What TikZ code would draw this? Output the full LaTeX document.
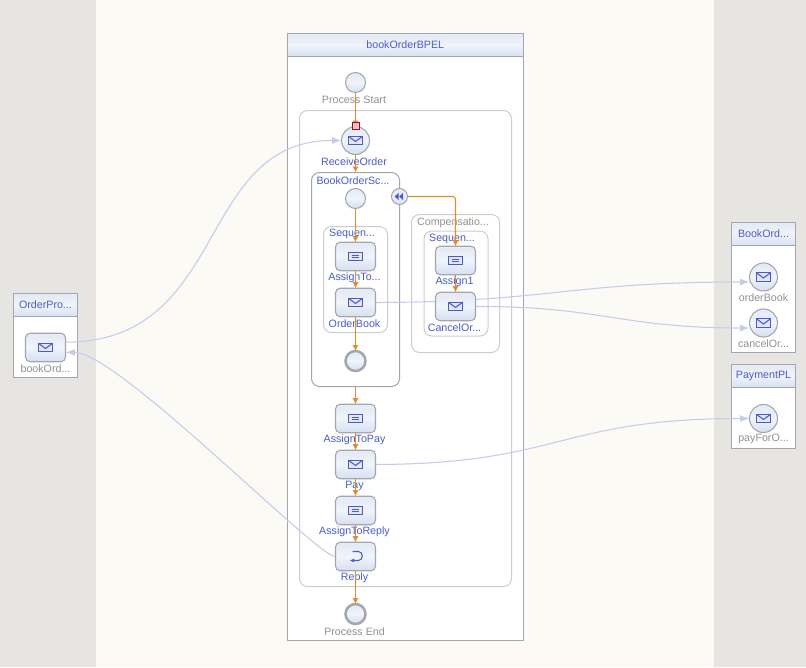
\documentclass[tikz,border=0pt]{standalone}
\usepackage{fontspec}
\setmainfont{Liberation Sans}
\usetikzlibrary{arrows.meta,backgrounds}
\definecolor{iconblue}{RGB}{74,92,204}
\definecolor{framegray}{RGB}{165,165,175}
\definecolor{paleframe}{RGB}{205,205,205}
\definecolor{labelgray}{RGB}{145,145,145}
\definecolor{floworange}{RGB}{226,138,44}
\definecolor{linkblue}{RGB}{198,203,236}
\definecolor{lanegray}{RGB}{230,229,225}
\definecolor{pagecream}{RGB}{251,250,245}
\definecolor{markerred}{RGB}{140,20,30}
\definecolor{markerpink}{RGB}{250,190,200}
\definecolor{shadeA}{RGB}{228,235,245}
\definecolor{shadeB}{RGB}{240,244,251}
\definecolor{shadeC}{RGB}{208,220,238}
\definecolor{shadeD}{RGB}{226,234,246}
\newcommand{\cutoff}{...}
\pgfdeclareverticalshading{activity}{100bp}{
    color(0bp)=(shadeD); color(20bp)=(shadeC); color(50bp)=(shadeB);
    color(72bp)=(shadeA); color(88bp)=(white); color(95bp)=(white); color(100bp)=(shadeC)}
\tikzset{
    every node/.style={font=\fontsize{8}{10}\selectfont, inner sep=0pt, outer sep=0pt},
    activitybox/.style={draw=framegray, line width=.8pt, rounded corners=3.5pt, shading=activity,
        minimum width=30pt, minimum height=21.4pt},
    portcircle/.style={draw=framegray, line width=.8pt, circle, shading=activity, minimum size=21pt},
    startcircle/.style={draw=framegray, line width=.8pt, circle, shading=activity, minimum size=15pt},
    endcircle/.style={draw=framegray, line width=1.9pt, circle, shading=activity, minimum size=15pt},
    groupbox/.style={draw=#1, line width=.75pt, rounded corners=6pt, anchor=north west},
    titlebar/.style={draw=framegray, line width=.75pt, shading=activity, anchor=north west, text=iconblue},
    panel/.style={draw=framegray, line width=.75pt, fill=white, anchor=north west},
    bluetext/.style={text=iconblue},
    graytext/.style={text=labelgray},
    flow/.style={draw=floworange, line width=.8pt, -{Latex[length=4.5pt,width=4.5pt]}},
    link/.style={draw=linkblue, line width=.8pt, -{Latex[length=7pt,width=5pt]}},
    mailicon/.pic={
        \draw[iconblue, line width=.8pt, fill=white!85!iconblue] (-7,-4.2) rectangle (7,4.2);
        \draw[iconblue, line width=.8pt] (-7,-4.2) -- (0,1) -- (7,-4.2);
    },
    assignicon/.pic={
        \draw[iconblue, line width=.8pt, fill=white!85!iconblue] (-7,-4.2) rectangle (7,4.2);
        \draw[iconblue, line width=.8pt] (-3.5,-1.3) -- (3.5,-1.3) (-3.5,1.3) -- (3.5,1.3);
    },
    replyicon/.pic={
        \draw[iconblue, line width=.8pt, -{Latex[length=3.5pt,width=3pt]}] (-3,-5) -- (3,-5)
            .. controls (8,-5) and (8,4) .. (3,4) -- (-6,4);
    },
}
\begin{document}
\begin{tikzpicture}[x=.75pt,y=-.75pt]
    \useasboundingbox (0,0) rectangle (806,667);
    \begin{scope}[on background layer]
        % Page
        \fill[fill=lanegray] (0,0) rectangle (806,667);
        \fill[fill=pagecream] (96,0) rectangle (714,667);
        % Process frame and partner lanes
        \foreach \name/\px/\py/\boxw/\boxh in {mainpanel/287.5/33.5/235.5/606.5,orderpanel/13.5/293.5/64/84,bookpanel/731.5/222.5/64/130,paypanel/731.5/364.5/64/84}
            \node[panel, minimum width=\boxw*.75pt, minimum height=\boxh*.75pt] (\name) at (\px,\py) {};
        \foreach \name/\px/\py/\boxw/\txt in {maintitle/287.5/33.5/235.5/bookOrderBPEL,ordertitle/13.5/293.5/64/OrderPro\cutoff,booktitle/731.5/222.5/64/BookOrd\cutoff,paytitle/731.5/364.5/64/PaymentPL}
            \node[titlebar, minimum width=\boxw*.75pt, minimum height=17.5pt] (\name) at (\px,\py) {\txt};
        % Containers
        \foreach \name/\px/\py/\boxw/\boxh/\col in {flowbox/299.5/110.5/212/476/paleframe,scopebox/311.5/172.5/88/214/framegray,seqbox/323.5/226.5/64/106/paleframe,compbox/411.5/214.5/88/138/paleframe,compseq/424/231/64/105/paleframe}
            \node[groupbox=\col, minimum width=\boxw*.75pt, minimum height=\boxh*.75pt] (\name) at (\px,\py) {};
    \end{scope}
    % Container labels
    \node[bluetext] (scopelabel) at (353,180.5) {BookOrderSc...};
    \node[bluetext] (seqlabel) at (352,233.5) {Sequen...};
    \node[graytext] (complabel) at (453,222.5) {Compensatio...};
    \node[bluetext] (compseqlabel) at (452,238.5) {Sequen...};
    % Activities
    \foreach \name/\px/\py/\icon/\txt in {assignto/355.5/256.5/assignicon/AssignTo\cutoff,orderbook/355.5/302.5/mailicon/OrderBook,assignone/455.5/260.5/assignicon/Assign1,cancelor/455.5/306.5/mailicon/CancelOr\cutoff,assignpay/355.5/418.5/assignicon/AssignToPay,pay/355.5/464.5/mailicon/Pay,assignreply/355.5/510.5/assignicon/AssignToReply,reply/355.5/556.5/replyicon/Reply}
    {
        \node[activitybox] (\name) at (\px,\py) {};
        \pic at (\name) {\icon};
        \node[bluetext] (\name label) at (\px-1,\py+21) {\txt};
    }
    \node[activitybox] (bookord) at (45.5,347.5) {};
    \pic at (bookord) {mailicon};
    \node[graytext] (bookordlabel) at (45.5,368.5) {bookOrd...};
    % Receive and partner ports
    \node[portcircle] (receive) at (355.5,140.5) {};
    \pic at (receive) {mailicon};
    \node[bluetext] (receivelabel) at (354,161.5) {ReceiveOrder};
    \foreach \name/\py/\txt in {orderport/277/orderBook,cancelport/323/cancelOr\cutoff,payport/418.5/payForO\cutoff}
    {
        \node[portcircle] (\name) at (763.5,\py) {};
        \pic at (\name) {mailicon};
        \node[graytext] (\name label) at (763.5,\py+20.5) {\txt};
    }
    % Start and end events
    \node[startcircle] (start) at (355.5,82.5) {};
    \node[graytext] (startlabel) at (354,99.5) {Process Start};
    \node[startcircle] (scopestart) at (355.5,198.5) {};
    \node[endcircle] (scopeend) at (355.5,361) {};
    \node[endcircle] (end) at (355.5,614) {};
    \node[graytext] (endlabel) at (354.5,631.5) {Process End};
    % Compensation handler
    \node[draw=framegray, line width=.8pt, circle, shading=activity, minimum size=12pt] (handler) at (399.5,196.5) {};
    \fill[iconblue] (398.5,193) -- (394.5,196.5) -- (398.5,200) -- cycle (403,193) -- (399,196.5) -- (403,200) -- cycle;
    % Message links
    \begin{scope}[on background layer]
        \draw[link] ([yshift=4pt]bookord.east) .. controls (230,342) and (195,140) .. (receive.west);
        \draw[link] (reply.west) .. controls (316,556.5) and (118,352) .. ([yshift=-3.7pt]bookord.east);
        \draw[link] (orderbook.east) .. controls (550,302) and (570,282) .. (orderport.west |- 0,282);
        \draw[link] (cancelor.east) .. controls (600,306) and (620,328) .. (cancelport.west |- 0,328);
        \draw[link] (pay.east) .. controls (560,464) and (560,418.5) .. (payport.west);
    \end{scope}
    % Control flow
    \foreach \from/\to in {start/receive,receive/scopebox,scopestart/assignto,assignto/orderbook,orderbook/scopeend,assignone/cancelor,assignpay/pay,pay/assignreply,assignreply/reply,reply/end}
        \draw[flow] (\from) -- (\to);
    \draw[flow] (scopebox.south -| scopeend) -- (assignpay);
    \draw[flow, rounded corners=2pt] (handler.east) -| (assignone.north);
    % Receive marker
    \node[draw=markerred, line width=.8pt, fill=markerpink, minimum size=5pt] (marker) at (356,126) {};
\end{tikzpicture}
\end{document}
